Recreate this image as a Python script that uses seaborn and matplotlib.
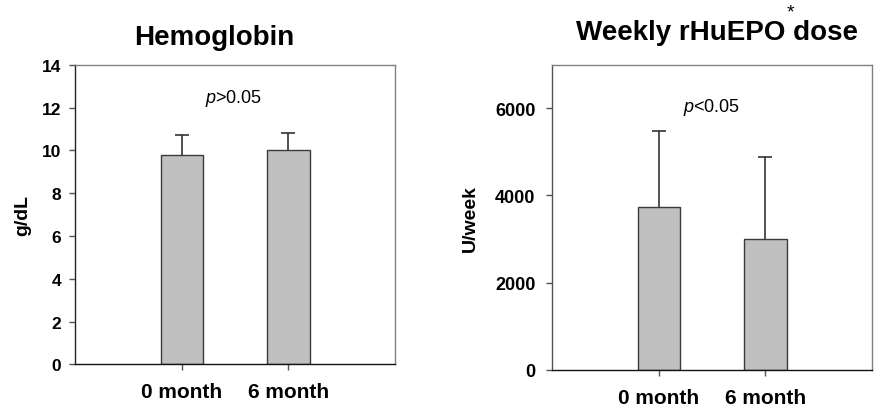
import matplotlib
matplotlib.use("Agg")
import matplotlib.pyplot as plt
import seaborn as sns
import pandas as pd

# ---- data ----
months = ["0 month", "6 month"]
hb_mean = [9.8, 10.0]
hb_sd = [0.9, 0.8]
epo_mean = [3730, 3000]
epo_sd = [1740, 1870]
hb_ticks = [0, 2, 4, 6, 8, 10, 12, 14]
epo_ticks = [0, 2000, 4000, 6000]

sns.set_theme(style="white")
plt.rcParams["font.family"] = ["Liberation Sans", "DejaVu Sans"]
plt.rcParams["mathtext.fontset"] = "custom"
plt.rcParams["mathtext.it"] = "Liberation Sans:italic"
plt.rcParams["mathtext.rm"] = "Liberation Sans"
for k in ["text.color", "axes.labelcolor", "xtick.labelcolor", "ytick.labelcolor"]:
    plt.rcParams[k] = "black"

fig = plt.figure(figsize=(8.74, 4.10), dpi=100)
ax1 = fig.add_axes([0.0862, 0.109, 0.3658, 0.7307])
ax2 = fig.add_axes([0.6319, 0.0959, 0.3658, 0.744])

BAR = "#c0c0c0"
EDGE = "#3a3a3a"


def panel(ax, means, sds, ylim, yticks, ylabel, ytick_fs, ytick_pad):
    df = pd.DataFrame({"month": months, "value": means})
    sns.barplot(data=df, x="month", y="value", ax=ax, color=BAR, width=0.4,
                edgecolor=EDGE, linewidth=1.0, errorbar=None, saturation=1)
    eb = ax.errorbar(range(len(means)), means, yerr=[[0] * len(sds), sds],
                     fmt="none", ecolor="#333333", elinewidth=1.2, capsize=5,
                     capthick=1.2)
    # keep only the upper caps
    caplines = eb.lines[1]
    if len(caplines) == 2:
        caplines[0].remove()
    ax.set_xlim(-1, 2)
    ax.set_ylim(*ylim)
    ax.set_yticks(yticks)
    ax.set_xlabel("")
    ax.set_ylabel(ylabel, fontsize=14, fontweight="bold", color="black")
    ax.tick_params(axis="x", direction="out", length=4, width=1, color="#555555",
                   pad=9, labelsize=15, labelcolor="black")
    ax.tick_params(axis="y", direction="out", length=4, width=1, color="#555555",
                   pad=ytick_pad, labelsize=ytick_fs, labelcolor="black")
    ax.tick_params(bottom=True, left=True)
    for lab in ax.get_xticklabels() + ax.get_yticklabels():
        lab.set_fontweight("bold")
    ax.spines["left"].set_color("#222222")
    ax.spines["bottom"].set_color("#111111")
    ax.spines["top"].set_color("#808080")
    ax.spines["right"].set_color("#808080")
    for s in ax.spines.values():
        s.set_linewidth(1.0)


panel(ax1, hb_mean, hb_sd, (0, 14), hb_ticks, "g/dL", 12.5, 6)
panel(ax2, epo_mean, epo_sd, (0, 7000), epo_ticks, "U/week", 13, 8)
ax2.spines["left"].set_color("#555555")

ax1.yaxis.set_label_coords(-0.139, 0.5)
ax2.yaxis.set_label_coords(-0.229, 0.5)

ax1.text(0.434, 1.069, "Hemoglobin", transform=ax1.transAxes, ha="center",
         va="baseline", fontsize=20, fontweight="bold", color="black")
ax2.text(0.515, 1.083, "Weekly rHuEPO dose", transform=ax2.transAxes,
         ha="center", va="baseline", fontsize=20, fontweight="bold",
         color="black")
fig.text(790 / 874, 1 - 4 / 410, "*", ha="center", va="top", fontsize=14,
         color="black")

ax1.text(0.494, 0.889, r"$\mathit{p}$>0.05", transform=ax1.transAxes,
         ha="center", va="center", fontsize=13, color="black")
ax2.text(0.497, 0.863, r"$\mathit{p}$<0.05", transform=ax2.transAxes,
         ha="center", va="center", fontsize=13, color="black")

fig.savefig("out.png", dpi=100)
